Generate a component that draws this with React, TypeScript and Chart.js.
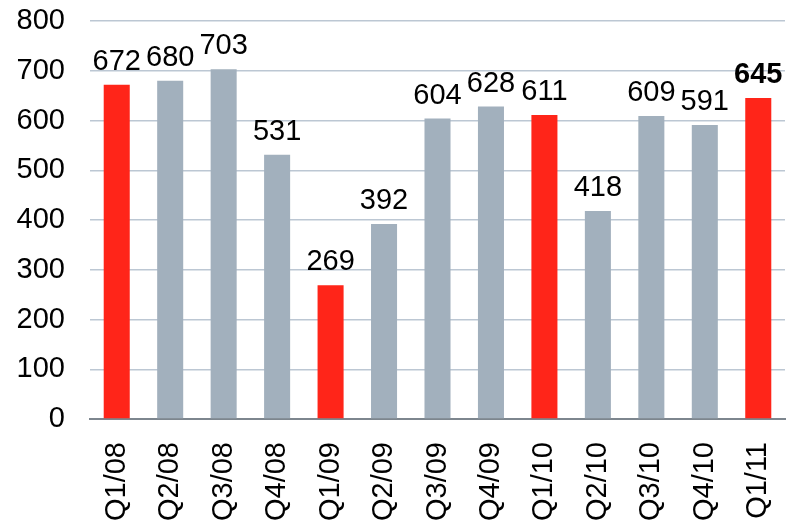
import React, { useEffect, useRef } from "react";
import { Chart, registerables } from "chart.js";

Chart.register(...registerables);

const quarters = [
  "Q1/08", "Q2/08", "Q3/08", "Q4/08",
  "Q1/09", "Q2/09", "Q3/09", "Q4/09",
  "Q1/10", "Q2/10", "Q3/10", "Q4/10",
  "Q1/11",
];
const values = [672, 680, 703, 531, 269, 392, 604, 628, 611, 418, 609, 591, 645];
// First quarter of each year is highlighted in red
const highlighted = [true, false, false, false, true, false, false, false, true, false, false, false, true];
const boldLabels = [false, false, false, false, false, false, false, false, false, false, false, false, true];

const RED = "#ff2519";
const GREY = "#a2b0bd";
const FONT = "'Liberation Sans', Arial, sans-serif";
const FONT_SIZE = 29;

const valueLabels = {
  id: "valueLabels",
  afterDatasetsDraw(chart: any) {
    const ctx = chart.ctx;
    const meta = chart.getDatasetMeta(0);
    ctx.save();
    ctx.fillStyle = "#000";
    ctx.textAlign = "center";
    ctx.textBaseline = "alphabetic";
    meta.data.forEach((bar: any, i: number) => {
      ctx.font = `${boldLabels[i] ? "bold " : ""}${FONT_SIZE}px ${FONT}`;
      ctx.fillText(String(values[i]), bar.x, bar.y - 15);
    });
    ctx.restore();
  },
};

export default function App() {
  const canvasRef = useRef<HTMLCanvasElement | null>(null);

  useEffect(() => {
    const canvas = canvasRef.current;
    if (!canvas) return;
    const chart = new Chart(canvas, {
      type: "bar",
      data: {
        labels: quarters,
        datasets: [
          {
            data: values,
            backgroundColor: highlighted.map((h) => (h ? RED : GREY)),
            borderWidth: 0,
            categoryPercentage: 1,
            barPercentage: 0.487,
          },
        ],
      },
      options: {
        responsive: false,
        animation: false,
        devicePixelRatio: 1,
        layout: { padding: { top: 21, right: 1, left: 0, bottom: 0 } },
        plugins: {
          legend: { display: false },
          tooltip: { enabled: false },
        },
        scales: {
          x: {
            grid: { display: false, drawTicks: false },
            border: { display: true, color: "#7d868e", width: 2 },
            ticks: {
              color: "#000",
              font: { family: FONT, size: FONT_SIZE },
              minRotation: 90,
              maxRotation: 90,
              padding: 23,
              autoSkip: false,
            },
            afterFit(scale: any) {
              scale.height = 102;
              scale.paddingLeft = 0;
              scale.paddingRight = 0;
              scale.paddingTop = 0;
              scale.paddingBottom = 0;
            },
          },
          y: {
            min: 0,
            max: 800,
            grid: { color: "#bcc7d3", lineWidth: 1.5, drawTicks: false },
            border: { display: false },
            ticks: {
              stepSize: 100,
              color: "#000",
              font: { family: FONT, size: FONT_SIZE },
              padding: 25,
            },
            afterFit(scale: any) {
              scale.width = 90;
              scale.paddingLeft = 0;
              scale.paddingRight = 0;
              scale.paddingTop = 0;
              scale.paddingBottom = 0;
            },
          },
        },
      },
      plugins: [valueLabels],
    });
    return () => chart.destroy();
  }, []);

  return (
    <div style={{ position: "absolute", left: 0, top: 0, width: 786, height: 521, background: "#fff" }}>
      <canvas ref={canvasRef} width={786} height={521} style={{ width: 786, height: 521, display: "block" }} />
    </div>
  );
}
